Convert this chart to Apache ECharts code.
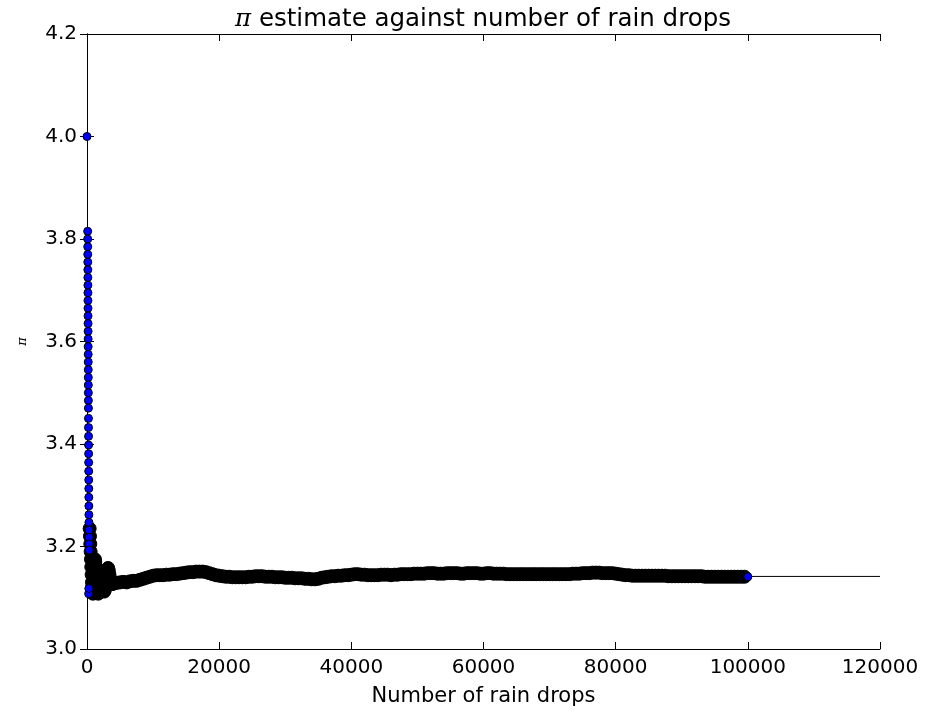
<!DOCTYPE html>
<html>
<head>
<meta charset="utf-8">
<script src="https://cdn.jsdelivr.net/npm/echarts@6/dist/echarts.min.js"></script>
<style>
html,body{margin:0;padding:0;background:#fff;}
#chart{width:925px;height:714px;}
</style>
</head>
<body>
<div id="chart"></div>
<script>
// ---- data ----
const xTicks = [0, 20000, 40000, 60000, 80000, 100000, 120000];
const yTicks = [3.0, 3.2, 3.4, 3.6, 3.8, 4.0, 4.2];
const PI_TRUE = 3.14159;

// early, sparse estimates (blue dots visible)
const earlyBlue = [
  [1,4.000],[100,3.815],[105,3.800],[110,3.785],[115,3.770],[120,3.755],[125,3.740],
  [130,3.725],[135,3.710],[140,3.695],[145,3.680],[150,3.665],[155,3.650],[160,3.635],
  [165,3.620],[170,3.605],[175,3.590],[180,3.575],[185,3.560],[190,3.545],[195,3.530],
  [200,3.515],[205,3.500],[210,3.485],[215,3.470],[222,3.450],[228,3.432],[234,3.415],
  [240,3.398],[246,3.381],[252,3.364],[258,3.347],[264,3.330],[270,3.313],[276,3.296],
  [282,3.279],[288,3.262],[294,3.247],[300,3.232],[310,3.218],[320,3.205],[330,3.193],
  [250,3.108],[270,3.118]
];

// early dense oscillation (N 400 - 3900)
const earlyDense = [
  [400,3.235],[450,3.220],[500,3.205],[550,3.190],[600,3.175],[650,3.160],[700,3.145],
  [750,3.130],[800,3.120],[850,3.110],[900,3.108],[950,3.115],[1000,3.130],[1050,3.145],
  [1100,3.160],[1150,3.170],[1200,3.175],[1250,3.170],[1300,3.160],[1400,3.140],
  [1500,3.125],[1600,3.112],[1700,3.108],[1800,3.112],[1900,3.120],[2000,3.130],
  [2100,3.138],[2200,3.140],[2300,3.135],[2400,3.125],[2500,3.117],[2600,3.112],
  [2700,3.115],[2800,3.125],[2900,3.138],[3000,3.150],[3100,3.157],[3200,3.158],
  [3300,3.153],[3400,3.145],[3500,3.137],[3600,3.131],[3700,3.128],[3800,3.127],[3900,3.127]
];

// converging band (N 4000 - 99500)
const band = [
  [4000,3.128],[4500,3.129],[5000,3.130],[5500,3.131],[6000,3.130],[6500,3.132],[7000,3.133],
  [7500,3.133],[8000,3.135],[8500,3.137],[9000,3.139],[9500,3.141],[10000,3.143],[10500,3.144],
  [11000,3.144],[11500,3.144],[12000,3.145],[12500,3.145],[13000,3.146],[13500,3.146],
  [14000,3.147],[14500,3.148],[15000,3.149],[15500,3.150],[16000,3.150],[16500,3.151],
  [17000,3.151],[17500,3.151],[18000,3.150],[18500,3.148],[19000,3.146],[19500,3.144],
  [20000,3.143],[20500,3.142],[21000,3.141],[21500,3.141],[22000,3.140],[22500,3.140],
  [23000,3.140],[23500,3.140],[24000,3.140],[24500,3.141],[25000,3.141],[25500,3.142],
  [26000,3.142],[26500,3.142],[27000,3.141],[27500,3.141],[28000,3.141],[28500,3.140],
  [29000,3.140],[29500,3.140],[30000,3.139],[30500,3.139],[31000,3.139],[31500,3.138],
  [32000,3.138],[32500,3.138],[33000,3.137],[33500,3.137],[34000,3.136],[34500,3.136],
  [35000,3.137],[35500,3.139],[36000,3.140],[36500,3.141],[37000,3.142],[37500,3.142],
  [38000,3.143],[38500,3.143],[39000,3.144],[39500,3.144],[40000,3.145],[40500,3.146],
  [41000,3.146],[41500,3.145],[42000,3.145],[42500,3.144],[43000,3.144],[43500,3.144],
  [44000,3.144],[44500,3.145],[45000,3.145],[45500,3.145],[46000,3.144],[46500,3.145],
  [47000,3.145],[47500,3.146],[48000,3.146],[48500,3.146],[49000,3.146],[49500,3.147],
  [50000,3.147],[50500,3.147],[51000,3.147],[51500,3.148],[52000,3.148],[52500,3.148],
  [53000,3.147],[53500,3.147],[54000,3.147],[54500,3.148],[55000,3.148],[55500,3.148],
  [56000,3.148],[56500,3.147],[57000,3.147],[57500,3.148],[58000,3.148],[58500,3.148],
  [59000,3.148],[59500,3.147],[60000,3.147],[60500,3.148],[61000,3.148],[61500,3.147],
  [62000,3.147],[62500,3.147],[63000,3.147],[63500,3.146],[64000,3.146],[64500,3.146],
  [65000,3.146],[65500,3.146],[66000,3.146],[66500,3.146],[67000,3.146],[67500,3.146],
  [68000,3.146],[68500,3.146],[69000,3.146],[69500,3.146],[70000,3.146],[70500,3.146],
  [71000,3.146],[71500,3.146],[72000,3.146],[72500,3.146],[73000,3.146],[73500,3.147],
  [74000,3.147],[74500,3.147],[75000,3.148],[75500,3.148],[76000,3.148],[76500,3.149],
  [77000,3.149],[77500,3.149],[78000,3.148],[78500,3.148],[79000,3.148],[79500,3.148],
  [80000,3.147],[80500,3.146],[81000,3.145],[81500,3.144],[82000,3.144],[82500,3.143],
  [83000,3.143],[83500,3.143],[84000,3.143],[84500,3.143],[85000,3.143],[85500,3.143],
  [86000,3.143],[86500,3.143],[87000,3.143],[87500,3.143],[88000,3.142],[88500,3.142],
  [89000,3.142],[89500,3.142],[90000,3.142],[90500,3.142],[91000,3.142],[91500,3.142],
  [92000,3.142],[92500,3.142],[93000,3.142],[93500,3.141],[94000,3.141],[94500,3.141],
  [95000,3.141],[95500,3.141],[96000,3.141],[96500,3.141],[97000,3.141],[97500,3.141],
  [98000,3.141],[98500,3.141],[99000,3.141],[99500,3.141]
];

const finalPoint = [[100000,3.141]];
const piLine = [[0, PI_TRUE],[120000, PI_TRUE]];

// ---- chart ----
const chart = echarts.init(document.getElementById('chart'), null, {renderer:'canvas'});
const FONT = 'DejaVu Sans';
const axisCommon = {
  axisLine:{show:true, lineStyle:{color:'#000', width:1}},
  axisTick:{show:true, inside:true, length:7, lineStyle:{color:'#000', width:1}},
  splitLine:{show:false}
};
chart.setOption({
  animation:false,
  backgroundColor:'#fff',
  title:{
    text:'{p|π} estimate against number of rain drops',
    left:478, top:2, textAlign:'center',
    textStyle:{fontFamily:FONT, fontSize:24.5, fontWeight:'normal', color:'#000',
      rich:{p:{fontFamily:'DejaVu Serif', fontStyle:'italic', fontSize:24.5, color:'#000'}}}
  },
  grid:{left:87, right:45, top:34, bottom:65, containLabel:false},
  xAxis:[
    Object.assign({type:'value', position:'bottom', min:xTicks[0], max:xTicks[xTicks.length-1], interval:20000,
      name:'Number of rain drops', nameLocation:'middle', nameGap:37,
      nameTextStyle:{fontFamily:FONT, fontSize:21, color:'#000'},
      axisLabel:{fontFamily:FONT, fontSize:20, color:'#000', margin:9, formatter:v=>String(v)}}, axisCommon),
    Object.assign({type:'value', position:'top', min:xTicks[0], max:xTicks[xTicks.length-1], interval:20000,
      axisLabel:{show:false}}, axisCommon)
  ],
  yAxis:[
    Object.assign({type:'value', position:'left', min:yTicks[0], max:yTicks[yTicks.length-1], interval:0.2,
      name:'π', nameLocation:'middle', nameGap:58, nameRotate:90,
      nameTextStyle:{fontFamily:'DejaVu Serif', fontStyle:'italic', fontSize:13, color:'#000'},
      axisLabel:{fontFamily:FONT, fontSize:20, color:'#000', margin:10, formatter:v=>v.toFixed(1)}}, axisCommon),
    Object.assign({type:'value', position:'right', min:yTicks[0], max:yTicks[yTicks.length-1], interval:0.2,
      axisLabel:{show:false}}, axisCommon)
  ],
  series:[
    {type:'line', data:piLine, showSymbol:false, symbol:'none', z:1,
      lineStyle:{color:'#000', width:1}},
    {type:'scatter', data:earlyDense, symbolSize:13, z:2, clip:false,
      itemStyle:{color:'#000', borderColor:'#000', borderWidth:1, opacity:1}},
    {type:'scatter', data:band, symbolSize:13, z:2, clip:false,
      itemStyle:{color:'#000', borderColor:'#000', borderWidth:1, opacity:1}},
    {type:'scatter', data:earlyBlue, symbolSize:8, z:3, clip:false,
      itemStyle:{color:'#0000ff', borderColor:'#000', borderWidth:1, opacity:1}},
    {type:'scatter', data:finalPoint, symbolSize:8, z:3, clip:false,
      itemStyle:{color:'#0000ff', borderColor:'#000', borderWidth:1, opacity:1}}
  ]
});
</script>
</body>
</html>
